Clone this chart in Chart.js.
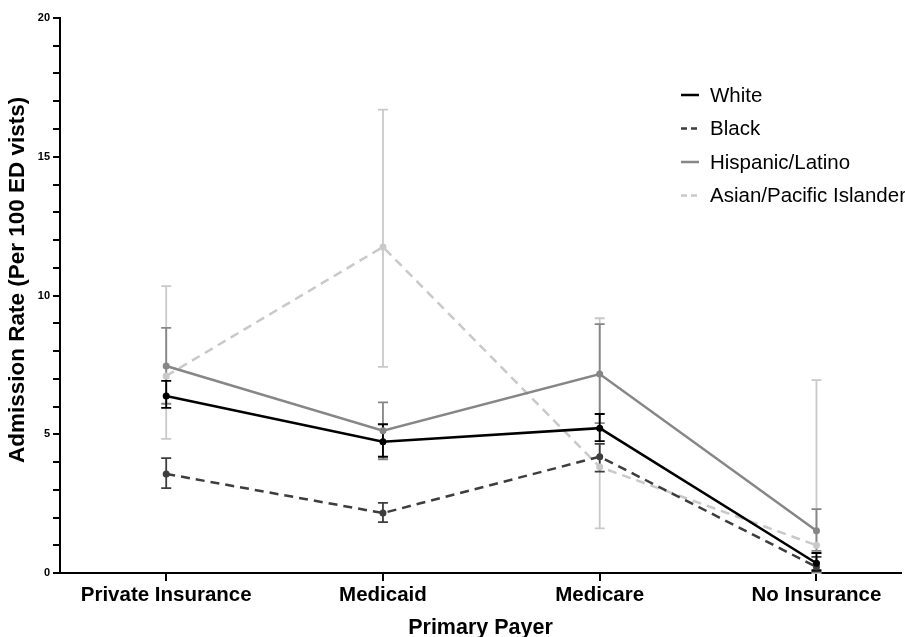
<!DOCTYPE html>
<html>
<head>
<meta charset="utf-8">
<script src="https://cdn.jsdelivr.net/npm/chart.js@4.4.1/dist/chart.umd.min.js"></script>
<style>
  html, body { margin: 0; padding: 0; background: #fff; overflow: hidden; }
</style>
</head>
<body>
<canvas id="chart" width="905" height="637"></canvas>
<script>
const categories = ['Private Insurance', 'Medicaid', 'Medicare', 'No Insurance']

// admission rates per 100 ED visits, with lower/upper error bounds
const white = [6.38, 4.73, 5.22, 0.35]
const whiteLow = [5.95, 4.19, 4.75, 0.1]
const whiteHigh = [6.92, 5.36, 5.73, 0.72]

const black = [3.57, 2.16, 4.19, 0.22]
const blackLow = [3.06, 1.83, 3.65, 0.05]
const blackHigh = [4.14, 2.53, 4.65, 0.58]

const hispanic = [7.46, 5.13, 7.17, 1.52]
const hispanicLow = [6.1, 4.1, 5.4, 0.8]
const hispanicHigh = [8.83, 6.15, 8.97, 2.3]

const asian = [7.1, 11.75, 3.82, 1.0]
const asianLow = [4.83, 7.43, 1.61, 0.0]
const asianHigh = [10.34, 16.7, 9.18, 6.95]

const series = [
  { label: 'White', values: white, low: whiteLow, high: whiteHigh, color: '#000000', dashed: false },
  { label: 'Black', values: black, low: blackLow, high: blackHigh, color: '#3d3d3d', dashed: true },
  { label: 'Hispanic/Latino', values: hispanic, low: hispanicLow, high: hispanicHigh, color: '#868686', dashed: false },
  { label: 'Asian/Pacific Islander', values: asian, low: asianLow, high: asianHigh, color: '#c9c9c9', dashed: true },
]

const errorBars = {
  id: 'errorBars',
  beforeDatasetsDraw(chart) {
    const { ctx, scales: { x, y } } = chart
    ctx.save()
    ctx.setLineDash([])
    ctx.lineWidth = 1.8
    for (let i = series.length - 1; i >= 0; i--) {
      const s = series[i]
      ctx.strokeStyle = s.color
      s.values.forEach((v, j) => {
        const px = x.getPixelForValue(j)
        const top = y.getPixelForValue(s.high[j])
        const bot = y.getPixelForValue(s.low[j])
        ctx.beginPath()
        ctx.moveTo(px, top)
        ctx.lineTo(px, bot)
        ctx.moveTo(px - 5, top)
        ctx.lineTo(px + 5, top)
        ctx.moveTo(px - 5, bot)
        ctx.lineTo(px + 5, bot)
        ctx.stroke()
      })
    }
    ctx.restore()
  },
}

const legendBox = {
  id: 'legendBox',
  afterDraw(chart) {
    const { ctx, chartArea } = chart
    const x0 = chartArea.left + 621
    const y0 = 95
    ctx.save()
    ctx.font = '20.5px "Liberation Sans", Arial, sans-serif'
    ctx.textBaseline = 'middle'
    series.forEach((s, i) => {
      const yy = y0 + i * 33.5
      ctx.strokeStyle = s.color
      ctx.lineWidth = 2.5
      ctx.setLineDash(s.dashed ? [6, 4] : [])
      ctx.beginPath()
      ctx.moveTo(x0, yy)
      ctx.lineTo(x0 + 18, yy)
      ctx.stroke()
      ctx.fillStyle = '#000'
      ctx.fillText(s.label, x0 + 29, yy + 1)
    })
    ctx.restore()
  },
}

const bold = (size) => ({ family: '"Liberation Sans", Arial, sans-serif', size, weight: 'bold' })

new Chart(document.getElementById('chart'), {
  type: 'line',
  data: {
    datasets: series.map((s) => ({
      label: s.label,
      data: s.values.map((v, j) => ({ x: j, y: v })),
      borderColor: s.color,
      backgroundColor: s.color,
      borderWidth: 2.5,
      borderDash: s.dashed ? [9, 6] : [],
      pointRadius: 3.5,
      pointBorderWidth: 0,
      pointBackgroundColor: s.color,
      tension: 0,
    })),
  },
  options: {
    responsive: false,
    animation: false,
    layout: { padding: { top: 18, right: 0, left: 0, bottom: 0 } },
    plugins: {
      legend: { display: false },
      tooltip: { enabled: false },
    },
    scales: {
      x: {
        type: 'linear',
        min: -0.49,
        max: 3.39,
        afterBuildTicks: (scale) => {
          scale.ticks = categories.map((c, i) => ({ value: i }))
        },
        afterFit: (scale) => {
          scale.height = 64
          scale.paddingLeft = 0
          scale.paddingRight = 0
        },
        ticks: {
          autoSkip: false,
          maxRotation: 0,
          padding: 2,
          color: '#000',
          font: bold(20.5),
          callback: (v) => categories[v] ?? '',
        },
        grid: { drawOnChartArea: false, tickLength: 8, color: '#000', lineWidth: 2 },
        border: { color: '#000', width: 2 },
        title: {
          display: true,
          text: 'Primary Payer',
          color: '#000',
          font: bold(21.5),
          padding: { top: 0, bottom: -4 },
        },
      },
      y: {
        min: 0,
        max: 20,
        afterFit: (scale) => {
          scale.width = 60
          scale.paddingTop = 0
          scale.paddingBottom = 0
        },
        ticks: {
          stepSize: 1,
          autoSkip: false,
          padding: 3,
          color: '#000',
          font: bold(11),
          callback: (v) => (v % 5 === 0 ? v : ''),
        },
        grid: { drawOnChartArea: false, tickLength: 7, color: '#000', lineWidth: 2 },
        border: { color: '#000', width: 2 },
        title: {
          display: true,
          // leading spaces nudge the centred title up a little, as in the source
          text: '     Admission Rate (Per 100 ED vists)',
          color: '#000',
          font: bold(22.5),
          padding: { top: 4, bottom: 0 },
        },
      },
    },
  },
  plugins: [errorBars, legendBox],
})
</script>
</body>
</html>
